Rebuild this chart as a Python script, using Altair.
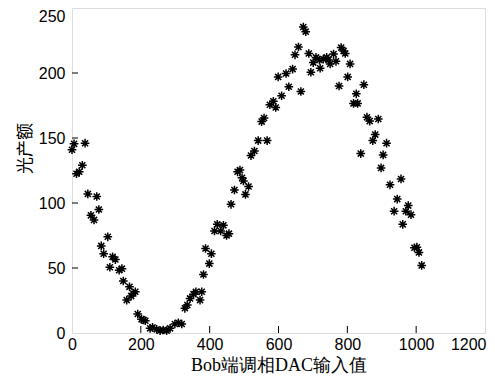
import altair as alt
import pandas as pd

x_vals = [0, 6, 13, 21, 30, 38, 46, 55, 64, 72, 78, 85, 92, 104, 110, 118, 126, 137, 145, 149,
          159, 167, 172, 178, 184, 191, 202, 208, 213, 227, 234, 246, 256, 265, 275, 285, 299, 309, 319, 328,
          335, 343, 353, 360, 372, 377, 382, 388, 399, 405, 414, 422, 432, 440, 449, 456, 462, 472, 481, 488,
          494, 498, 504, 513, 520, 530, 541, 551, 558, 567, 575, 585, 592, 599, 609, 622, 630, 641, 648, 658,
          665, 672, 679, 688, 694, 701, 709, 719, 721, 730, 740, 745, 750, 760, 767, 776, 782, 789, 794, 801,
          808, 818, 826, 830, 839, 848, 857, 865, 874, 881, 890, 898, 904, 914, 924, 936, 945, 956, 961, 970,
          977, 985, 995, 1002, 1008, 1016]
y_vals = [141, 145.5, 122.5, 124, 129, 146, 107, 90.5, 87, 105, 95, 67, 61, 74, 50.6, 58.6, 56.5, 48.3, 49.5, 40,
          25.3, 35.5, 28.4, 30.4, 31.7, 14.6, 10.5, 10, 9.4, 3.6, 4.3, 2.8, 1.8, 2.3, 1.8, 3.6, 6.9, 7.9, 6.9, 19,
          21.5, 26.6, 29.9, 31.7, 25.3, 31.7, 45, 65, 53.4, 61, 78.5, 83.6, 78.5, 82.8, 75, 76.4, 99, 110, 124, 125.4,
          119.4, 117, 106.6, 112.7, 136.5, 140, 148, 162.6, 165.4, 148, 175.6, 178.2, 173.5, 197, 182.5, 199.6, 189.4, 203, 214, 220,
          185.8, 235.4, 231.8, 215, 200.6, 208, 212, 210, 203.7, 210.7, 212, 210, 207, 214.6, 209, 190, 219.6, 217, 215, 197,
          207, 176.6, 184, 176.6, 138, 191, 166, 163, 148, 152.6, 164.6, 127, 137, 146, 114, 93.7, 103, 118.5, 83.6, 93.7,
          98, 91, 65.6, 66, 62, 52]

x_ticks = [0, 200, 400, 600, 800, 1000, 1200]
y_ticks = [0, 50, 100, 150, 200, 250]
x_inner = [200, 400, 600, 800, 1000]
y_inner = [50, 100, 150, 200]

df = pd.DataFrame({"x": x_vals, "y": y_vals})
xt = pd.DataFrame({"x": x_inner})
yt = pd.DataFrame({"y": y_inner})

W, H = 413, 325
xscale = alt.Scale(domain=[0, 1200], nice=False, zero=False)
yscale = alt.Scale(domain=[0, 250], nice=False, zero=False)

star = "M0,-1L0,1M-1,0L1,0M-0.7,-0.7L0.7,0.7M-0.7,0.7L0.7,-0.7"

points = alt.Chart(df).mark_point(
    shape=star, filled=False, stroke="black", strokeWidth=1.5, size=75, opacity=1
).encode(
    x=alt.X("x:Q", scale=xscale, axis=alt.Axis(
        values=x_ticks, ticks=False, grid=False, domain=False, format="d",
        title="Bob端调相DAC输入值", titleFont="Liberation Serif", titleFontSize=18,
        titleFontWeight="normal", titleColor="black", titlePadding=4,
        labelFont="Liberation Sans", labelFontSize=16, labelColor="black",
        labelPadding=3,
        labelAlign={"condition": {"test": "datum.value == 1200", "value": "right"}, "value": "center"},
        labelOffset={"condition": {"test": "datum.value == 1200", "value": 1}, "value": 0})),
    y=alt.Y("y:Q", scale=yscale, axis=alt.Axis(
        values=y_ticks, ticks=False, grid=False, domain=False, format="d",
        title="光产额", titleFont="Noto Sans CJK SC", titleFontSize=17,
        titleFontWeight="normal", titleColor="black", titlePadding=4, titleY=140,
        labelFont="Liberation Sans", labelFontSize=16, labelColor="black",
        labelPadding=7,
        labelBaseline={"condition": {"test": "datum.value == 250", "value": "top"}, "value": "middle"})),
)

xticks = alt.Chart(xt).mark_rule(color="black", strokeWidth=1).encode(
    x=alt.X("x:Q", scale=xscale), y=alt.value(H), y2=alt.value(H - 7))
yticks = alt.Chart(yt).mark_rule(color="black", strokeWidth=1).encode(
    y=alt.Y("y:Q", scale=yscale), x=alt.value(0), x2=alt.value(6))

chart = alt.layer(points, xticks, yticks).properties(
    width=W, height=H,
    autosize=alt.AutoSizeParams(type="none"),
    padding={"left": 64, "top": 0, "right": 2, "bottom": 45},
).configure_view(stroke="#222", strokeWidth=1.5).configure(background="white")

chart.save("out.html", embed_options={"renderer": "svg", "actions": False})
